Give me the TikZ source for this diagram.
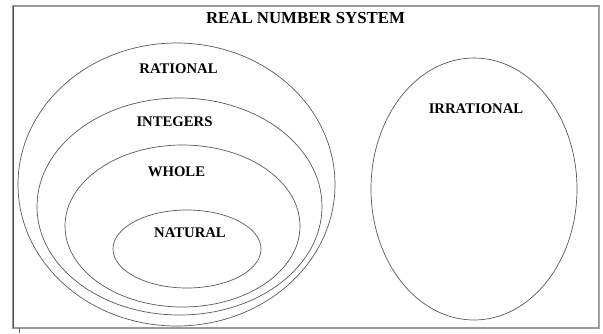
\documentclass[tikz,border=0pt]{standalone}
\usepackage{fontspec}
\setmainfont{Liberation Serif}
\usepackage{tikz}
\usetikzlibrary{positioning}

\tikzset{
	setline/.style={draw=black!65, line width=0.7pt},
	setlabel/.style={font=\bfseries\fontsize{14.7}{16}\selectfont, inner sep=0pt},
}

\begin{document}
\begin{tikzpicture}[x=1pt, y=-1pt]
	\useasboundingbox (0,0) rectangle (603,333);
	% outer frame
	\draw[black!40, line width=1.1pt] (13,6) rectangle (599,328);
	\draw[black!35, line width=1.8pt] (599.5,6) -- (599.5,328.5);
	\draw[black!70, line width=1pt] (13,6) -- (13,328);
	\draw[black!60, line width=0.8pt] (19,328) -- (19,333);
	\node[font=\bfseries\fontsize{16.8}{18}\selectfont, inner sep=0pt] (title) at (305.5,18) {REAL NUMBER SYSTEM};
	% nested sets
	\draw[setline] (176.5,184.5) ellipse [x radius=158.5pt, y radius=141.5pt];
	\draw[setline] (179.5,206.5) ellipse [x radius=142.5pt, y radius=108.5pt];
	\draw[setline] (182.5,226) ellipse [x radius=117.5pt, y radius=81pt];
	\draw[setline] (187,249) ellipse [x radius=74pt, y radius=39pt];
	\node[setlabel] (rational) at (178.5,68.5) {RATIONAL};
	\node[setlabel] (integers) at (174.5,121.5) {INTEGERS};
	\node[setlabel] (whole) at (176.5,171.5) {WHOLE};
	\node[setlabel] (natural) at (190,232.5) {NATURAL};
	% irrational numbers on their own
	\draw[setline] (474,189) ellipse [x radius=103pt, y radius=131pt];
	\node[setlabel] (irrational) at (476,109) {IRRATIONAL};
\end{tikzpicture}
\end{document}
